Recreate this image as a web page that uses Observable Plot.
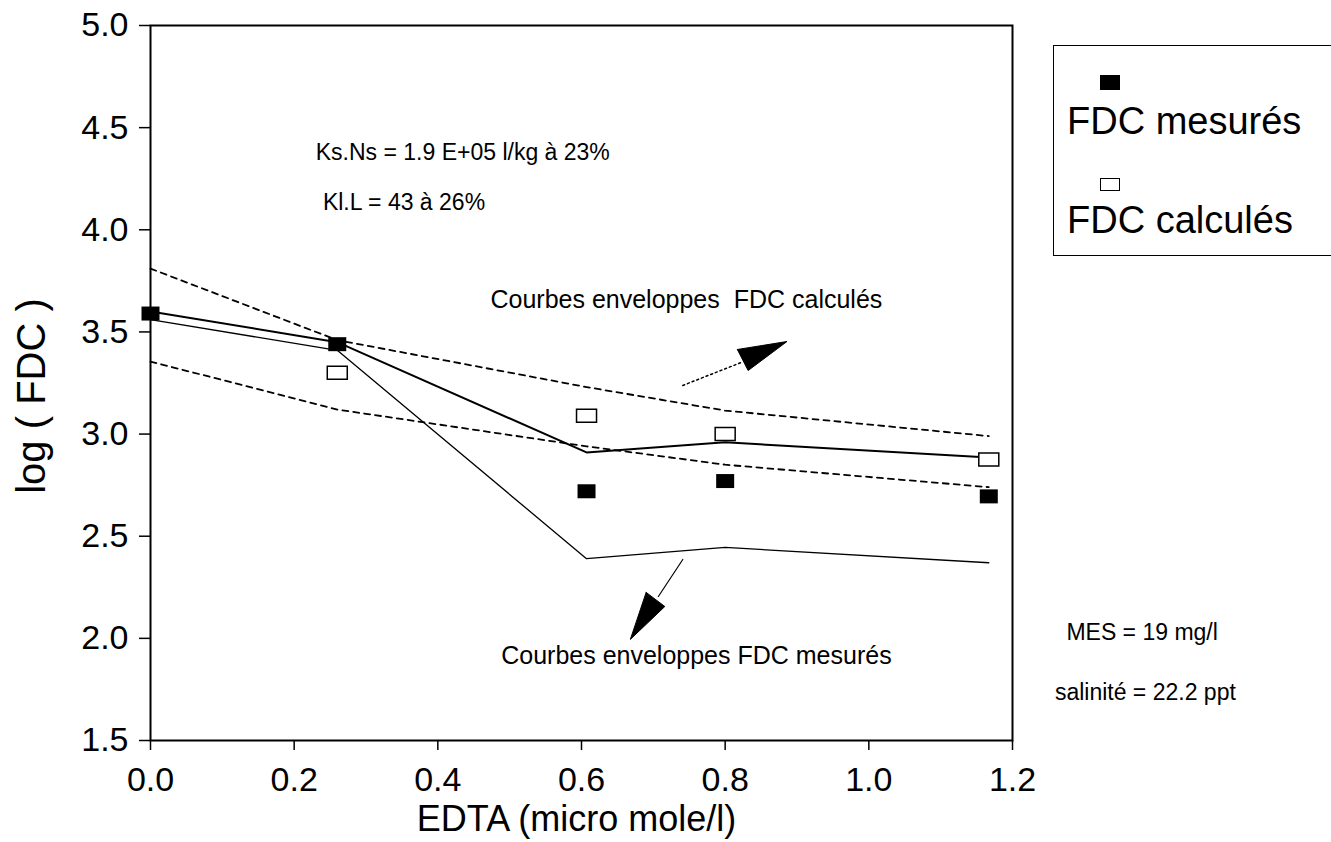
<!DOCTYPE html>
<html>
<head>
<meta charset="utf-8">
<script src="https://cdn.jsdelivr.net/npm/d3@7"></script>
<script src="https://cdn.jsdelivr.net/npm/@observablehq/plot@0.6"></script>
<style>
  html, body { margin: 0; padding: 0; background: white; }
  #wrap { position: relative; width: 1331px; height: 842px; overflow: hidden; font-family: "Liberation Sans", Arial, sans-serif; }
  #legend { position: absolute; left: 1053px; top: 45px; width: 320px; height: 211px; border: 1.5px solid black; box-sizing: border-box; }
  .sym { position: absolute; left: 46px; box-sizing: border-box; }
  .lab { position: absolute; left: 13px; font-size: 38px; line-height: 40px; white-space: nowrap; color: black; }
</style>
</head>
<body>
<div id="wrap">
  <div id="chart"></div>
  <div id="legend">
    <div class="sym" style="top:29px;width:20px;height:15px;background:black;"></div>
    <div class="lab" style="top:55px;">FDC mesurés</div>
    <div class="sym" style="top:132px;width:20px;height:13px;border:1.5px solid black;background:white;"></div>
    <div class="lab" style="top:154px;">FDC calculés</div>
  </div>
</div>
<script>
// ---- data ----
const xEDTA        = [0, 0.26, 0.607, 0.8, 1.167];
const fdcMesures   = [3.59, 3.44, 2.72, 2.77, 2.695];
const xCalc        = [0.26, 0.607, 0.8, 1.167];
const fdcCalcules  = [3.30, 3.09, 3.00, 2.875];
const envMesHaut   = [3.60, 3.45, 2.91, 2.96, 2.885];
const envMesBas    = [3.56, 3.41, 2.39, 2.445, 2.37];
const envCalcHaut  = [3.81, 3.46, 3.23, 3.115, 2.99];
const envCalcBas   = [3.355, 3.12, 2.94, 2.85, 2.74];
const xTicks = [0, 0.2, 0.4, 0.6, 0.8, 1.0, 1.2];
const yTicks = [1.5, 2.0, 2.5, 3.0, 3.5, 4.0, 4.5, 5.0];

// annotations (data units)
const notes = [
  {x: 0.23, y: 4.378, t: "Ks.Ns = 1.9 E+05 l/kg à 23%", size: 23, anchor: "start"},
  {x: 0.24, y: 4.134, t: "Kl.L = 43 à 26%", size: 23, anchor: "start"},
  {x: 0.746, y: 3.654, t: "Courbes enveloppes  FDC calculés", size: 25, anchor: "middle"},
  {x: 0.760, y: 1.916, t: "Courbes enveloppes FDC mesurés", size: 25, anchor: "middle"},
  {x: 1.275, y: 2.029, t: "MES = 19 mg/l", size: 23, anchor: "start"},
  {x: 1.259, y: 1.735, t: "salinité = 22.2 ppt", size: 23, anchor: "start"}
];
const arrowCalcStem = [[0.741, 3.238], [0.822, 3.350]];
const arrowCalcHead = [[0.817, 3.414], [0.886, 3.453], [0.832, 3.311], [0.817, 3.414]];
const arrowMesStem  = [[0.741, 2.386], [0.707, 2.205]];
const arrowMesHead  = [[0.690, 2.225], [0.668, 1.995], [0.716, 2.156], [0.690, 2.225]];

const toPts = (xs, ys) => xs.map((x, i) => ({x, y: ys[i]}));
const rectFilled = {draw(ctx) { ctx.rect(-9, -7, 18, 14); }};
const rectOpen = {draw(ctx) { ctx.rect(-10, -6.5, 20, 13); }};

const chart = Plot.plot({
  width: 1331,
  height: 842,
  marginLeft: 150,
  marginRight: 319,
  marginTop: 25,
  marginBottom: 102,
  style: {fontFamily: "'Liberation Sans', Arial, sans-serif", background: "white", color: "black", overflow: "visible"},
  x: {domain: [0, 1.2]},
  y: {domain: [1.5, 5.0]},
  marks: [
    Plot.axisX(xTicks, {tickSize: 10, tickPadding: 16, tickFormat: d3.format(".1f"), fontSize: 34, label: null, strokeWidth: 1.5}),
    Plot.axisY(yTicks, {tickSize: 11, tickPadding: 11, tickFormat: d3.format(".1f"), fontSize: 34, label: null, strokeWidth: 1.5}),
    Plot.frame({stroke: "black", strokeWidth: 2}),
    // envelopes of calculated FDC (dashed)
    Plot.line(toPts(xEDTA, envCalcHaut), {x: "x", y: "y", stroke: "black", strokeWidth: 1.8, strokeDasharray: "6,5"}),
    Plot.line(toPts(xEDTA, envCalcBas), {x: "x", y: "y", stroke: "black", strokeWidth: 1.8, strokeDasharray: "6,5"}),
    // envelopes of measured FDC (solid)
    Plot.line(toPts(xEDTA, envMesHaut), {x: "x", y: "y", stroke: "black", strokeWidth: 2}),
    Plot.line(toPts(xEDTA, envMesBas), {x: "x", y: "y", stroke: "black", strokeWidth: 1.3}),
    // points
    Plot.dot(toPts(xCalc, fdcCalcules), {x: "x", y: "y", symbol: rectOpen, fill: "white", stroke: "black", strokeWidth: 1.5}),
    Plot.dot(toPts(xEDTA, fdcMesures), {x: "x", y: "y", symbol: rectFilled, fill: "black", stroke: "none"}),
    // arrows
    Plot.line(arrowCalcStem, {stroke: "black", strokeWidth: 1.5, strokeDasharray: "2,3"}),
    Plot.line(arrowCalcHead, {fill: "black", stroke: "black", strokeWidth: 1}),
    Plot.line(arrowMesStem, {stroke: "black", strokeWidth: 1.2}),
    Plot.line(arrowMesHead, {fill: "black", stroke: "black", strokeWidth: 1}),
    // annotation texts
    ...notes.map(n => Plot.text([n], {x: "x", y: "y", text: "t", fontSize: n.size, textAnchor: n.anchor, fill: "black"})),
    // axis titles
    Plot.text(["EDTA (micro mole/l)"], {frameAnchor: "bottom", dy: 79, dx: -5, textAnchor: "middle", lineAnchor: "middle", fontSize: 36, fill: "black"}),
    Plot.text(["log ( FDC )"], {frameAnchor: "left", dx: -118, dy: 13, rotate: -90, textAnchor: "middle", lineAnchor: "middle", fontSize: 40, fill: "black"})
  ]
});
document.getElementById("chart").appendChild(chart);
</script>
</body>
</html>
